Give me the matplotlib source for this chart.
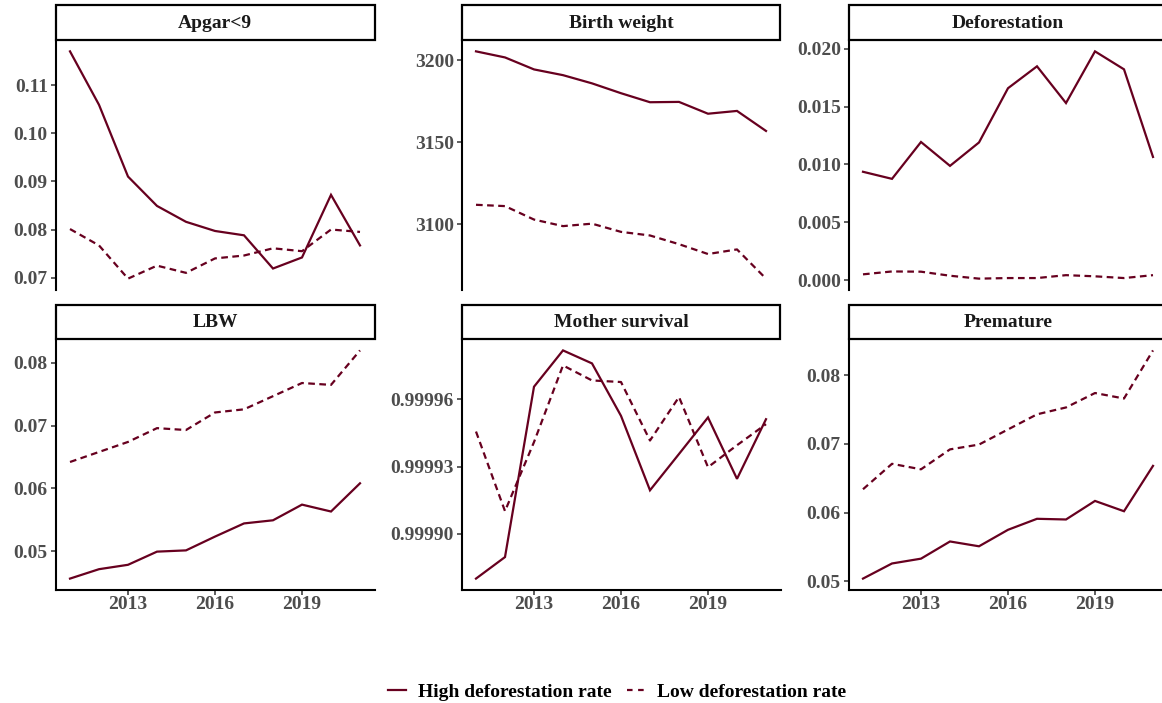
import matplotlib
matplotlib.use("Agg")
import matplotlib.pyplot as plt
from matplotlib.lines import Line2D
from matplotlib.patches import Rectangle

# =========================================================
# DATA
# =========================================================
years = list(range(2011, 2022))

apgar_high = [0.1170, 0.1059, 0.0910, 0.0849, 0.0816, 0.0797, 0.0788, 0.0719, 0.0742, 0.0872, 0.0767]
apgar_low = [0.0801, 0.0767, 0.0698, 0.0725, 0.0710, 0.0740, 0.0746, 0.0761, 0.0755, 0.0800, 0.0795]

bw_high = [3205.5, 3201.8, 3194.5, 3191.0, 3186.0, 3180.0, 3174.5, 3174.7, 3167.5, 3169.2, 3157.0]
bw_low = [3112.0, 3111.2, 3103.0, 3099.0, 3100.5, 3095.5, 3093.3, 3088.0, 3082.0, 3084.8, 3067.0]

defor_high = [0.00937, 0.00876, 0.01194, 0.00988, 0.01190, 0.01658, 0.01847, 0.01530, 0.01976, 0.01821, 0.01065]
defor_low = [0.00052, 0.00077, 0.00075, 0.00040, 0.00015, 0.00020, 0.00020, 0.00045, 0.00035, 0.00020, 0.00045]

lbw_high = [0.0456, 0.0471, 0.0478, 0.0499, 0.0501, 0.0523, 0.0544, 0.0549, 0.0574, 0.0563, 0.0608]
lbw_low = [0.0642, 0.0658, 0.0674, 0.0696, 0.0693, 0.0721, 0.0726, 0.0747, 0.0768, 0.0765, 0.0820]

mother_high = [0.9998800, 0.9998896, 0.9999656, 0.9999818, 0.9999760, 0.9999526,
               0.9999194, 0.9999356, 0.9999519, 0.9999245, 0.9999511]
mother_low = [0.9999456, 0.9999101, 0.9999409, 0.9999751, 0.9999684, 0.9999677,
              0.9999416, 0.9999610, 0.9999297, 0.9999395, 0.9999489]

prem_high = [0.0504, 0.0526, 0.0533, 0.0558, 0.0551, 0.0575, 0.0591, 0.0590, 0.0617, 0.0602, 0.0668]
prem_low = [0.0634, 0.0671, 0.0663, 0.0692, 0.0699, 0.0721, 0.0743, 0.0753, 0.0774, 0.0766, 0.0836]

panel_titles = ["Apgar<9", "Birth weight", "Deforestation", "LBW", "Mother survival", "Premature"]
high_series = [apgar_high, bw_high, defor_high, lbw_high, mother_high, prem_high]
low_series = [apgar_low, bw_low, defor_low, lbw_low, mother_low, prem_low]

y_ticks = [
    [0.07, 0.08, 0.09, 0.10, 0.11],
    [3100, 3150, 3200],
    [0.000, 0.005, 0.010, 0.015, 0.020],
    [0.05, 0.06, 0.07, 0.08],
    [0.99990, 0.99993, 0.99996],
    [0.05, 0.06, 0.07, 0.08],
]
y_fmt = ["{:.2f}", "{:.0f}", "{:.3f}", "{:.2f}", "{:.5f}", "{:.2f}"]
x_ticks = [2013, 2016, 2019]

legend_labels = ["High deforestation rate", "Low deforestation rate"]

# =========================================================
# STYLE
# =========================================================
LINE_COLOR = "#67001f"
TICK_COLOR = "#4d4d4d"
FONT = "Liberation Serif"
FS = 14
plt.rcParams["font.family"] = FONT
plt.rcParams["font.weight"] = "bold"

W, H = 1162, 703
fig = plt.figure(figsize=(W / 100, H / 100), dpi=100)


def px_axes(x0, y0, x1, y1):
    # axes from pixel box (top-left origin)
    return fig.add_axes([x0 / W, 1 - y1 / H, (x1 - x0) / W, (y1 - y0) / H])


col_left = [55.5, 461.5, 848.5]
col_width = 319
rows = [(5, 40, 40, 290), (305, 339, 339, 590)]

dash = (0, (3.0, 2.0))

for i, title in enumerate(panel_titles):
    r, c = divmod(i, 3)
    s_top, s_bot, p_top, p_bot = rows[r]
    x0 = col_left[c]
    x1 = x0 + col_width

    ax = px_axes(x0, p_top, x1, p_bot)
    ax.plot(years, high_series[i], color=LINE_COLOR, lw=1.6, solid_joinstyle="miter")
    ax.plot(years, low_series[i], color=LINE_COLOR, lw=1.6, linestyle=dash)
    ax.set_xlim(2010.5, 2021.5)
    ax.margins(y=0.05)

    ax.set_yticks(y_ticks[i])
    ax.set_yticklabels([y_fmt[i].format(v) for v in y_ticks[i]])
    for side in ["top", "right"]:
        ax.spines[side].set_visible(False)
    ax.spines["left"].set_linewidth(1.5)
    ax.spines["bottom"].set_linewidth(1.5)
    ax.tick_params(axis="y", length=3.5, width=1.1, color="#333333",
                   labelsize=FS, labelcolor=TICK_COLOR, pad=2)
    if r == 1:
        ax.set_xticks(x_ticks)
        ax.set_xticklabels([str(v) for v in x_ticks])
        ax.tick_params(axis="x", length=3.5, width=1.1, color="#333333",
                       labelsize=FS, labelcolor=TICK_COLOR, pad=1)
    else:
        ax.spines["bottom"].set_visible(False)
        ax.set_xticks([])
    for lab in ax.get_xticklabels() + ax.get_yticklabels():
        lab.set_fontweight("bold")

    # facet strip
    sax = px_axes(x0, s_top, x1, s_bot)
    sax.set_axis_off()
    sax.add_patch(Rectangle((0, 0), 1, 1, transform=sax.transAxes, facecolor="white",
                            edgecolor="black", lw=1.6, clip_on=False))
    sax.text(0.5, 0.48, title, transform=sax.transAxes, ha="center", va="center",
             fontsize=FS, fontweight="bold", color="#1a1a1a")

# legend below the panels
handles = [
    Line2D([], [], color=LINE_COLOR, lw=1.6),
    Line2D([], [], color=LINE_COLOR, lw=1.6, linestyle=(0, (2.5, 2.5))),
]
fig.legend(handles, legend_labels, loc="center", bbox_to_anchor=(617 / W, 1 - 692 / H),
           ncol=2, frameon=False, handlelength=0.95, handletextpad=0.6,
           columnspacing=0.8, borderpad=0.2,
           prop={"family": FONT, "weight": "bold", "size": FS})

fig.savefig("out.png", dpi=100)
